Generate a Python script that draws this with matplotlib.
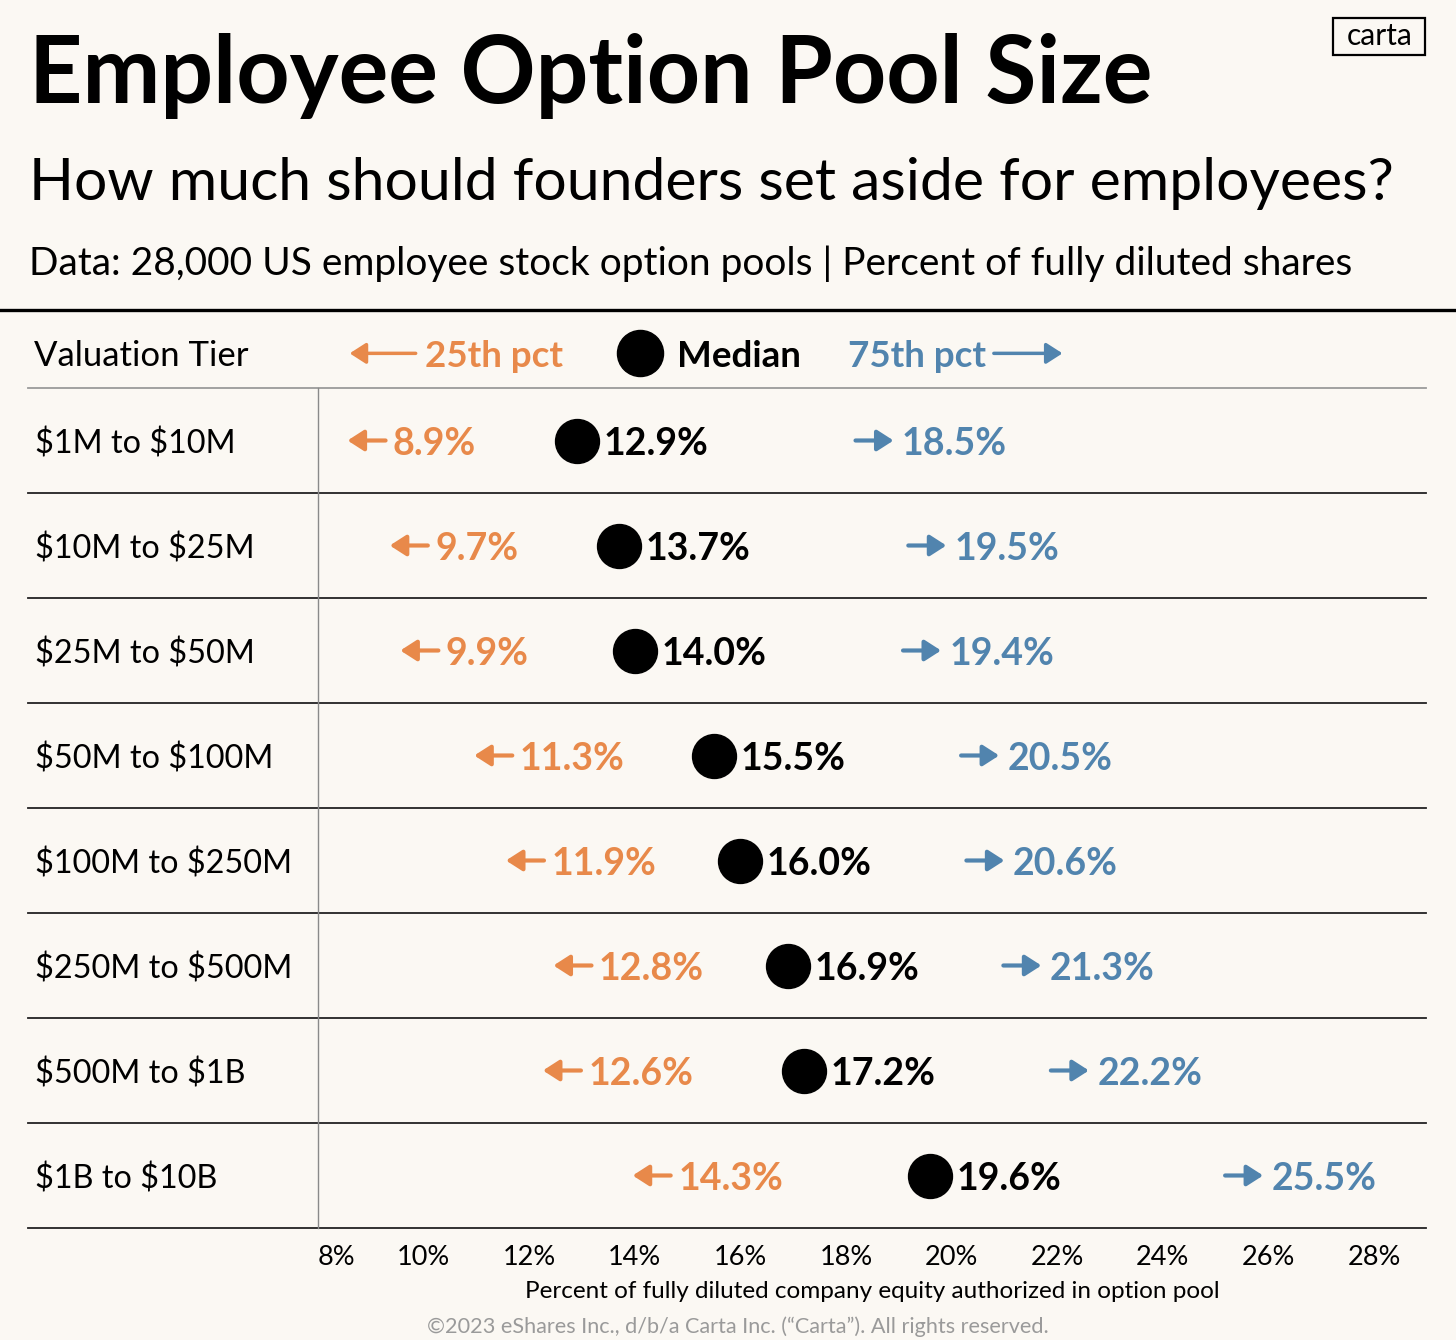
import numpy as np
import matplotlib.pyplot as plt
from matplotlib.patches import Rectangle

tiers = ["$1M to $10M", "$10M to $25M", "$25M to $50M", "$50M to $100M",
         "$100M to $250M", "$250M to $500M", "$500M to $1B", "$1B to $10B"]
p25 = [8.9, 9.7, 9.9, 11.3, 11.9, 12.8, 12.6, 14.3]
median = [12.9, 13.7, 14.0, 15.5, 16.0, 16.9, 17.2, 19.6]
p75 = [18.5, 19.5, 19.4, 20.5, 20.6, 21.3, 22.2, 25.5]
ticks = [8, 10, 12, 14, 16, 18, 20, 22, 24, 26, 28]

BG = "#FBF8F3"
ORANGE = "#E8894A"
BLUE = "#5184AE"
FONT = ["Lato", "DejaVu Sans"]
plt.rcParams['font.family'] = FONT

W, H = 1456, 1340
fig = plt.figure(figsize=(W / 100, H / 100), dpi=100, facecolor=BG)

def fx(px):
    return px / W

def fy(py):
    return 1 - py / H

# plot area in pixels
L, R, T, B = 318, 1426, 388, 1228
ax = fig.add_axes([fx(L), fy(B), fx(R - L), (B - T) / H])
ax.set_facecolor(BG)
pxper = 52.8  # pixels per percent
ax.set_xlim(8, 8 + (R - L) / pxper)
ax.set_ylim(8, 0)
for s in ax.spines.values():
    s.set_visible(False)
ax.set_yticks([])
ax.set_xticks(ticks)
ax.set_xticklabels([f"{t}%" for t in ticks], fontsize=19.5)
ax.tick_params(axis="x", length=0, pad=12)
ax.get_xticklabels()[0].set_ha("left")
ax.get_xticklabels()[0].set_x(8.08)
ax.set_xlabel("Percent of fully diluted company equity authorized in option pool",
              fontsize=17.5, labelpad=8)

# table lines
trans = ax.get_yaxis_transform()
x0 = (28 - L) / (R - L)
for i in range(9):
    col = "#9a9a9a" if i == 0 else "#222222"
    ax.plot([x0, 1], [i, i], transform=trans, color=col, lw=1.3, clip_on=False)
ax.plot([0, 0], [0, 8], transform=trans, color="#8a8a8a", lw=1.0, clip_on=False)

def arrow(x_from, x_to, y, color, lw=3, ms=14, hl=0.7, hw=0.45):
    ax.annotate("", xy=(x_to, y), xytext=(x_from, y), annotation_clip=False,
                arrowprops=dict(arrowstyle=f"-|>,head_length={hl},head_width={hw}",
                                color=color, lw=lw, mutation_scale=ms,
                                shrinkA=0, shrinkB=0))

dy = 0.03  # nudge text down to sit on the row centre
for i, tier in enumerate(tiers):
    y = i + 0.5
    ax.text(x0 + 0.006, y + dy, tier.replace("$", r"\$"), transform=trans,
            fontsize=23.3, va="center", ha="left")
    arrow(p25[i] + 0.38, p25[i] - 0.34, y, ORANGE)
    ax.text(p25[i] + 0.52, y + dy, f"{p25[i]:.1f}%", color=ORANGE, fontsize=27,
            fontweight="bold", va="center", ha="left")
    arrow(p75[i] - 0.32, p75[i] + 0.40, y, BLUE)
    ax.text(p75[i] + 0.56, y + dy, f"{p75[i]:.1f}%", color=BLUE, fontsize=27,
            fontweight="bold", va="center", ha="left")
    ax.text(median[i] + 0.5, y + dy, f"{median[i]:.1f}%", color="black", fontsize=27,
            fontweight="bold", va="center", ha="left")
ax.scatter(median, np.arange(len(tiers)) + 0.5, s=1000, color="black", zorder=3,
           clip_on=False)

# header row
hy = -0.33
ax.text(x0 + 0.005, hy + dy, "Valuation Tier", transform=trans, fontsize=25, va="center")
arrow(9.85, 8.6, hy, ORANGE, lw=2.5, ms=14)
ax.text(10.02, hy + dy, "25th pct", color=ORANGE, fontsize=26.5, fontweight="bold",
        va="center")
ax.scatter([14.09], [hy], s=1100, color="black", clip_on=False)
ax.text(14.79, hy + dy, "Median", color="black", fontsize=26.5, fontweight="bold",
        va="center")
ax.text(18.03, hy + dy, "75th pct", color=BLUE, fontsize=26.5, fontweight="bold",
        va="center")
arrow(20.8, 22.1, hy, BLUE, lw=2.5, ms=14)

# titles
fig.text(fx(29), fy(76), "Employee Option Pool Size", fontsize=67, fontweight="bold",
         va="center", ha="left")
fig.text(fx(29), fy(183), "How much should founders set aside for employees?",
         fontsize=42.4, va="center", ha="left")
fig.text(fx(29), fy(264), "Data: 28,000 US employee stock option pools | Percent of fully diluted shares",
         fontsize=28, va="center", ha="left")
fig.add_artist(plt.Line2D([0, 1], [fy(310), fy(310)], color="black", lw=2.4))

# logo
fig.add_artist(Rectangle((fx(1333), fy(55)), fx(92), 37 / H, fill=False,
                         edgecolor="black", lw=1.6))
fig.text(fx(1380), fy(36), "carta", fontsize=21.5, ha="center", va="center")

fig.text(fx(738), fy(1327), "\u00a92023 eShares Inc., d/b/a Carta Inc. (\u201cCarta\u201d). All rights reserved.",
         fontsize=15.6, color="#9a9a9a", ha="center", va="center")

fig.savefig("out.png", dpi=100, facecolor=BG)
